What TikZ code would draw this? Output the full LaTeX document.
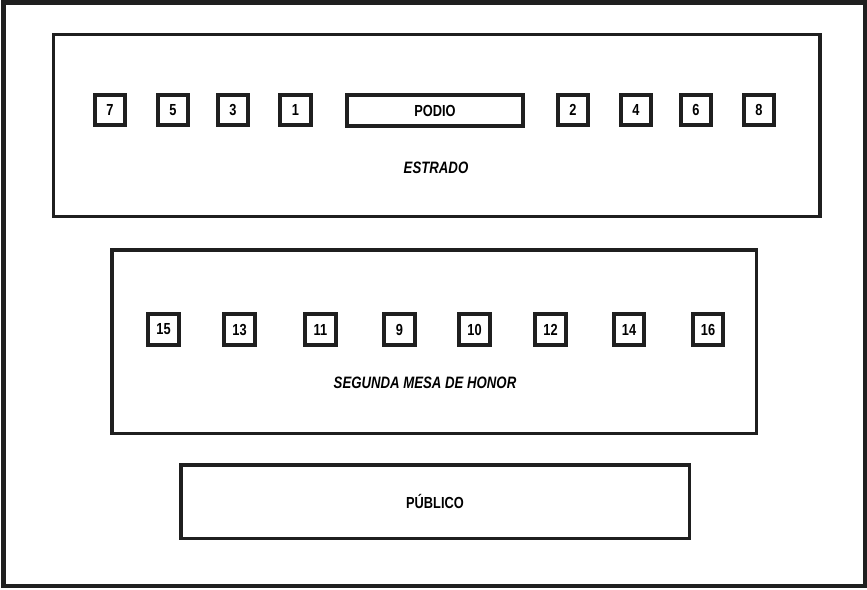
\documentclass[tikz,border=0pt]{standalone}
\usepackage{fontspec}
\setmainfont{Liberation Sans}[FakeStretch=0.8]
\begin{document}
\begin{tikzpicture}[x=1pt,y=-1pt,
  frame/.style={draw=black!88, line width=4.5pt, inner sep=0pt},
  zone/.style={draw=black!88, line width=3.5pt, inner sep=0pt},
  seat/.style={draw=black!88, line width=3.8pt, minimum size=30.5pt, inner sep=0pt, font=\fontsize{16}{18}\selectfont\bfseries},
  lab/.style={inner sep=0pt, font=\fontsize{16}{18}\selectfont\bfseries},
  ilab/.style={inner sep=0pt, font=\fontsize{16.5}{18}\selectfont\bfseries\itshape}]
\useasboundingbox (0,0) rectangle (867,589);
\fill[white] (0,0) rectangle (867,589);
\node[frame, minimum width=861.5pt, minimum height=583.5pt] (outer) at (434.25,294.25) {};
\node[zone, minimum width=766.5pt, minimum height=182pt] (estrado) at (436.75,125.5) {};
\node[zone, minimum width=644.5pt, minimum height=183.5pt] (segunda) at (434.25,341.75) {};
\node[zone, minimum width=508.5pt, minimum height=73.5pt] (publico) at (435.25,501.75) {};
% top row
\node[seat] (s7) at (110,110) {7};
\node[seat] (s5) at (173,110) {5};
\node[seat] (s3) at (233,110) {3};
\node[seat] (s1) at (295.5,110) {1};
\node[seat, minimum width=176.5pt, minimum height=30.5pt] (podio) at (435,110.5) {PODIO};
\node[seat] (s2) at (573,110) {2};
\node[seat] (s4) at (636,110) {4};
\node[seat] (s6) at (696,110) {6};
\node[seat] (s8) at (759,110) {8};
% second row
\node[seat] (s15) at (163.5,329.5) {15};
\node[seat] (s13) at (239.5,329.5) {13};
\node[seat] (s11) at (320.5,329.5) {11};
\node[seat] (s9) at (399.5,329.5) {9};
\node[seat] (s10) at (474.5,329.5) {10};
\node[seat] (s12) at (550.5,329.5) {12};
\node[seat] (s14) at (629,329.5) {14};
\node[seat] (s16) at (708,329.5) {16};
% labels
\node[ilab] (estradolab) at (436,168) {ESTRADO};
\node[ilab] (segundalab) at (425,383) {SEGUNDA MESA DE HONOR};
\node[lab] (publicolab) at (435,501) {PÚBLICO};
\end{tikzpicture}
\end{document}
